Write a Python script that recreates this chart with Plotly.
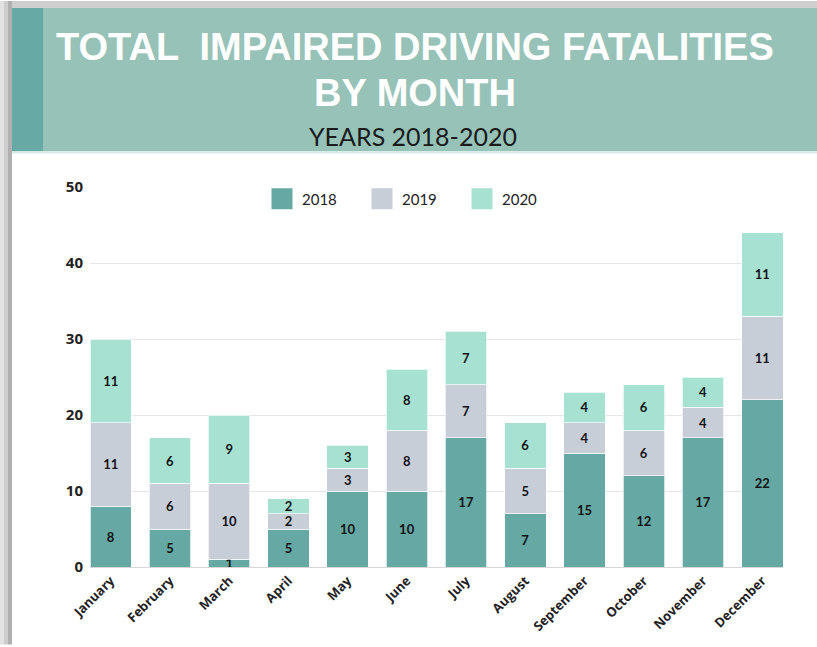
import plotly.graph_objects as go

months = ["January", "February", "March", "April", "May", "June", "July",
          "August", "September", "October", "November", "December"]
years = ["2018", "2019", "2020"]
v2018 = [8, 5, 1, 5, 10, 10, 17, 7, 15, 12, 17, 22]
v2019 = [11, 6, 10, 2, 3, 8, 7, 6, 4, 6, 4, 11]
v2020 = [11, 6, 9, 2, 3, 8, 7, 6, 4, 6, 4, 11]
# printed data labels (the August 2019 label reads 5 in the original)
lbl2018 = [8, 5, 1, 5, 10, 10, 17, 7, 15, 12, 17, 22]
lbl2019 = [11, 6, 10, 2, 3, 8, 7, 5, 4, 6, 4, 11]
lbl2020 = [11, 6, 9, 2, 3, 8, 7, 6, 4, 6, 4, 11]
colors = ["#66a8a3", "#c7ced8", "#a6e1d2"]

W, H = 817, 647
L, R, T, B = 90, 34, 187, 78
PW, PH = W - L - R, H - T - B


def px(x):
    return (x - L) / PW


def py(y):
    return (H - B - y) / PH


fig = go.Figure()
for name, vals, lbls, col in zip(years, [v2018, v2019, v2020],
                                 [lbl2018, lbl2019, lbl2020], colors):
    fig.add_trace(go.Bar(
        x=months, y=vals, name=name,
        marker=dict(color=col, line=dict(color="rgba(255,255,255,0.7)", width=1)),
        text=[str(v) for v in lbls], textposition="inside", insidetextanchor="middle",
        constraintext="none", textangle=0,
        textfont=dict(family="Lato", size=13, color="#111111", weight="bold"),
        showlegend=False, hoverinfo="x+y+name"))

for name, col in zip(years, colors):
    fig.add_trace(go.Scatter(
        x=[None], y=[None], mode="markers", name=name,
        marker=dict(symbol="square", size=16, color=col, line=dict(color=col, width=5))))

shapes = [
    # outer shadow
    dict(type="rect", xref="paper", yref="paper", x0=px(0), x1=px(W), y0=py(7), y1=py(0),
         fillcolor="#cfcfcf", line=dict(width=0), layer="below"),
    dict(type="rect", xref="paper", yref="paper", x0=px(0), x1=px(4), y0=py(H), y1=py(0),
         fillcolor="#e2e2e2", line=dict(width=0), layer="below"),
    dict(type="rect", xref="paper", yref="paper", x0=px(4), x1=px(8), y0=py(H), y1=py(0),
         fillcolor="#cdcdcd", line=dict(width=0), layer="below"),
    dict(type="rect", xref="paper", yref="paper", x0=px(8), x1=px(12), y0=py(H), y1=py(0),
         fillcolor="#b0b0b0", line=dict(width=0), layer="below"),
    # header band
    dict(type="rect", xref="paper", yref="paper", x0=px(12), x1=px(W), y0=py(151), y1=py(7),
         fillcolor="#96c2b8", line=dict(width=0), layer="below"),
    dict(type="rect", xref="paper", yref="paper", x0=px(12), x1=px(43), y0=py(151), y1=py(7),
         fillcolor="#67a9a4", line=dict(width=0), layer="below"),
    dict(type="rect", xref="paper", yref="paper", x0=px(12), x1=px(W), y0=py(153), y1=py(151),
         fillcolor="#d3ebe6", line=dict(width=0), layer="below"),
]

title_font = dict(family="Liberation Sans, Arial, sans-serif", size=38, color="white", weight="bold")
annotations = [
    dict(text="TOTAL  IMPAIRED DRIVING FATALITIES", xref="paper", yref="paper",
         x=px(415), y=py(46), xanchor="center", yanchor="middle", showarrow=False,
         font=title_font),
    dict(text="BY MONTH", xref="paper", yref="paper",
         x=px(415), y=py(93), xanchor="center", yanchor="middle", showarrow=False,
         font=title_font),
    dict(text="YEARS 2018-2020", xref="paper", yref="paper",
         x=px(413), y=py(136), xanchor="center", yanchor="middle", showarrow=False,
         font=dict(family="Lato", size=25, color="#1a1a1a")),
]

fig.update_layout(
    width=W, height=H, autosize=False,
    margin=dict(l=L, r=R, t=T, b=B, pad=0),
    paper_bgcolor="white", plot_bgcolor="white",
    barmode="stack", bargap=0.3,
    shapes=shapes, annotations=annotations,
    legend=dict(orientation="h", x=px(262), xanchor="left", y=py(199), yanchor="middle",
                traceorder="normal",
                font=dict(family="Lato", size=15, color="#222222"),
                entrywidth=55, entrywidthmode="pixels", itemwidth=30,
                bgcolor="rgba(0,0,0,0)"),
    xaxis=dict(type="category", range=[-0.35, 11.35], tickangle=-45,
               showline=True, linecolor="#d6d6d6", linewidth=1, showgrid=False,
               ticks="", tickfont=dict(family="Open Sans", size=13, color="#222222", weight="bold")),
    yaxis=dict(range=[0, 50], dtick=10, showgrid=True, gridcolor="#e6e6e6", gridwidth=1,
               zeroline=False, ticks="", ticklabelstandoff=6,
               tickfont=dict(family="Open Sans", size=15, color="#222222", weight="bold")),
)

fig.write_html("out.html", config={"displayModeBar": False},
               post_script="document.body.style.margin='0';document.body.style.overflow='hidden';")
